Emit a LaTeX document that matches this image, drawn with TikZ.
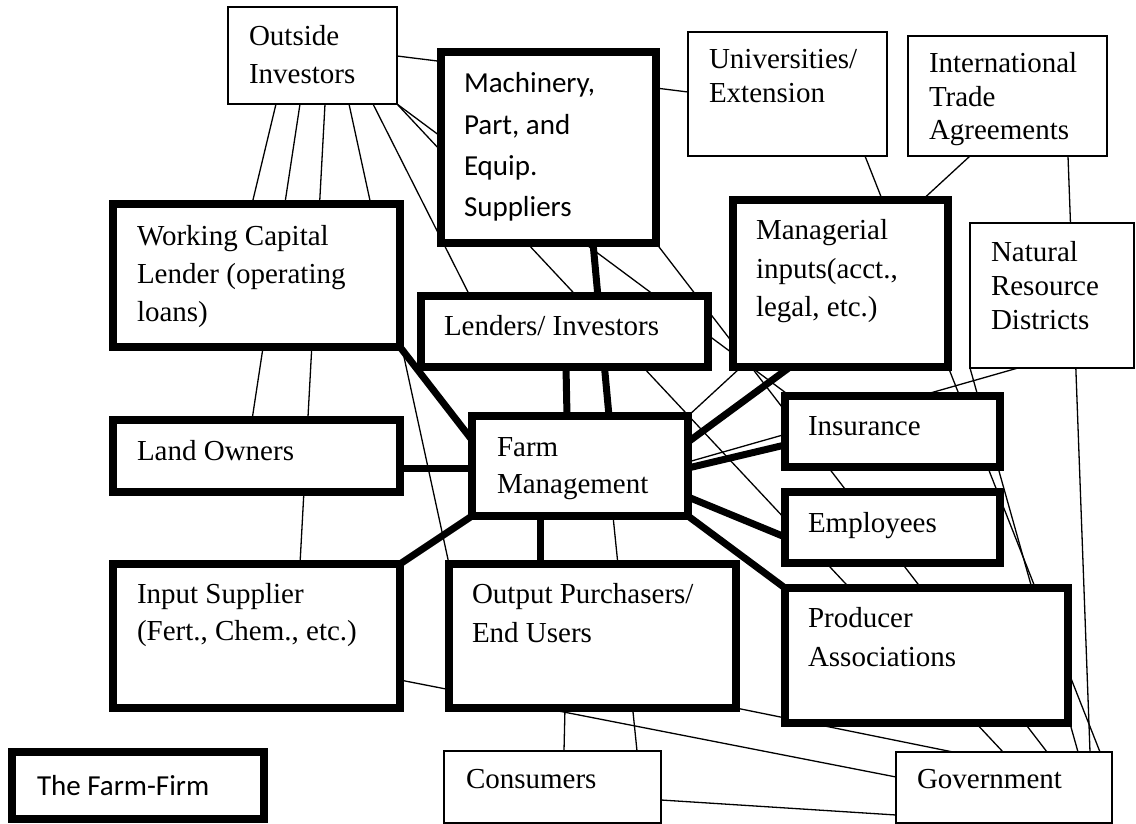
\documentclass[tikz,border=0pt]{standalone}
\usepackage{fontspec}
\setmainfont{Liberation Serif}
\newfontfamily\carlito{Carlito}
\usetikzlibrary{fit,calc}
\newcommand\tlines[2]{\vtop{\baselineskip=#1pt\lineskiplimit=-100pt\relax #2}}
\tikzset{
  thinbox/.style={draw, line width=1.5pt, fill=white, inner sep=0pt, outer sep=0pt, rectangle},
  thickbox/.style={draw, line width=7.5pt, fill=white, inner sep=0pt, outer sep=0pt, rectangle},
  link/.style={line width=1.3pt},
  heavy/.style={line width=7pt},
  txt/.style={anchor=base west, inner sep=0pt, outer sep=0pt, font=\fontsize{29}{37}\selectfont},
  ctxt/.style={anchor=base west, inner sep=0pt, outer sep=0pt, font=\carlito\fontsize{29}{41}\selectfont},
}
\begin{document}
\begin{tikzpicture}[x=1pt,y=-1pt]
\useasboundingbox (0,0) rectangle (1136,824);
% coordinates for boxes (geometry only, drawn later)
\path[use as bounding box] (0,0);
\begin{scope}[every node/.append style={draw=none, fill=none}]
\node[thinbox, fit={(228,7) (397,104)}] (oi) {};
\node[thickbox, fit={(441,52) (656,243)}] (mach) {};
\node[thinbox, fit={(688,32) (887,156)}] (univ) {};
\node[thinbox, fit={(908,36) (1107,156)}] (intl) {};
\node[thickbox, fit={(733,200) (948,367)}] (mgr) {};
\node[thinbox, fit={(970,223) (1134,368)}] (nrd) {};
\node[thickbox, fit={(113,204) (400,347)}] (wc) {};
\node[thickbox, fit={(113,420) (400,492)}] (lo) {};
\node[thickbox, fit={(113,564) (400,708)}] (is) {};
\node[thickbox, fit={(12,752) (264,819)}] (ff) {};
\node[thickbox, fit={(421,296) (708,367)}] (len) {};
\node[thickbox, fit={(472,416) (688,516)}] (fm) {};
\node[thickbox, fit={(785,396) (1000,467)}] (ins) {};
\node[thickbox, fit={(785,492) (1000,563)}] (emp) {};
\node[thickbox, fit={(785,588) (1068,723)}] (pa) {};
\node[thickbox, fit={(449,564) (736,708)}] (op) {};
\node[thinbox, fit={(444,751) (661,823)}] (con) {};
\node[thinbox, fit={(896,752) (1112,823)}] (gov) {};
\end{scope}
% thin connectors
\draw[link] ($(oi.north east)+(0,49)$) -- ($(univ.north west)+(0,60)$);
\draw[link] ($(oi.south west)+(48,0)$) -- ($(wc.north west)+(139,0)$);
\draw[link] ($(oi.south west)+(72,0)$) -- ($(lo.north west)+(139,0)$);
\draw[link] ($(oi.south west)+(97,0)$) -- ($(is.north west)+(187,0)$);
\draw[link] ($(oi.south west)+(121,0)$) -- (op.north west);
\draw[link] ($(oi.south west)+(145,0)$) -- ($(len.north west)+(49,0)$);
\draw[link] (oi.south east) -- ($(ins.north west)+(5,0)$);
\draw[link] (oi.south east) -- ($(gov.north west)+(107,0)$);
\draw[link] (mach.south east) -- ($(gov.north west)+(151,0)$);
\draw[link] ($(univ.south west)+(177,0)$) -- ($(gov.north west)+(204,0)$);
\draw[link] ($(intl.south west)+(62,0)$) -- (fm.north east);
\draw[link] ($(intl.south west)+(160,0)$) -- ($(gov.north west)+(194,0)$);
\draw[link] (nrd.south west) -- ($(gov.north west)+(182,0)$);
\draw[link] ($(fm.north east)+(0,46)$) -- ($(nrd.south west)+(48,0)$);
\draw[link] ($(is.north east)+(0,116)$) -- ($(gov.north west)+(0,25)$);
\draw[link] (op.south east) -- ($(gov.north west)+(57,0)$);
\draw[link] ($(op.south west)+(116,0)$) -- ($(con.north west)+(120,0)$);
\draw[link] ($(fm.south west)+(141,0)$) -- ($(con.north west)+(193,0)$);
\draw[link] ($(con.north east)+(0,49)$) -- ($(gov.north west)+(0,63)$);
% thick connectors
\draw[heavy] ($(mach.south west)+(152,0)$) -- ($(fm.north west)+(137,0)$);
\draw[heavy] ($(len.south west)+(145,0)$) -- ($(fm.north west)+(95,0)$);
\draw[heavy] (wc.south east) -- ($(fm.north west)+(0,24)$);
\draw[heavy] ($(lo.north east)+(0,48)$) -- ($(fm.north west)+(0,52)$);
\draw[heavy] (fm.south west) -- (is.north east);
\draw[heavy] ($(fm.south west)+(68,0)$) -- ($(op.north west)+(91,0)$);
\draw[heavy] (fm.south east) -- (pa.north west);
\draw[heavy] ($(fm.north east)+(0,81)$) -- ($(emp.north west)+(0,45)$);
\draw[heavy] ($(fm.north east)+(0,52)$) -- ($(ins.north west)+(0,49)$);
\draw[heavy] ($(fm.north east)+(0,26)$) -- ($(mgr.south west)+(57,0)$);
% boxes on top
\foreach \n/\s in {oi/thinbox,mach/thickbox,univ/thinbox,intl/thinbox,mgr/thickbox,nrd/thinbox,wc/thickbox,lo/thickbox,is/thickbox,ff/thickbox,len/thickbox,fm/thickbox,ins/thickbox,emp/thickbox,pa/thickbox,op/thickbox,con/thinbox,gov/thinbox}{
  \path[\s] (\n.north west) rectangle (\n.south east);
}
% texts
\node[txt] (oi-t) at (249,46) {\tlines{37.5}{\hbox{Outside}\hbox{Investors}}};
\node[ctxt] (mach-t) at (464,93) {\tlines{41.2}{\hbox{Machinery,}\hbox{Part, and}\hbox{Equip.}\hbox{Suppliers}}};
\node[txt] (univ-t) at (709,69) {\tlines{33.5}{\hbox{Universities/}\hbox{Extension}}};
\node[txt] (intl-t) at (929,73) {\tlines{33.5}{\hbox{International}\hbox{Trade}\hbox{Agreements}}};
\node[txt] (mgr-t) at (756,240) {\tlines{38.5}{\hbox{Managerial}\hbox{inputs(acct.,}\hbox{legal, etc.)}}};
\node[txt] (nrd-t) at (991,261) {\tlines{34.5}{\hbox{Natural}\hbox{Resource}\hbox{Districts}}};
\node[txt] (wc-t) at (137,245) {\tlines{38.5}{\hbox{Working Capital}\hbox{Lender (operating}\hbox{loans)}}};
\node[txt] (len-t) at (444,335) {Lenders/ Investors};
\node[txt] (fm-t) at (497,456) {\tlines{37.5}{\hbox{Farm}\hbox{Management}}};
\node[txt] (lo-t) at (137,460) {Land Owners};
\node[txt] (ins-t) at (808,435) {Insurance};
\node[txt] (emp-t) at (808,532) {Employees};
\node[txt] (pa-t) at (808,627) {\tlines{39}{\hbox{Producer}\hbox{Associations}}};
\node[txt] (is-t) at (137,603) {\tlines{37.5}{\hbox{Input Supplier}\hbox{(Fert., Chem., etc.)}}};
\node[txt] (op-t) at (472,603) {\tlines{39}{\hbox{Output Purchasers/}\hbox{End Users}}};
\node[txt] (con-t) at (466,788) {Consumers};
\node[txt] (gov-t) at (917,788) {Government};
\node[ctxt] (ff-t) at (37,795) {The Farm-Firm};
\end{tikzpicture}
\end{document}
